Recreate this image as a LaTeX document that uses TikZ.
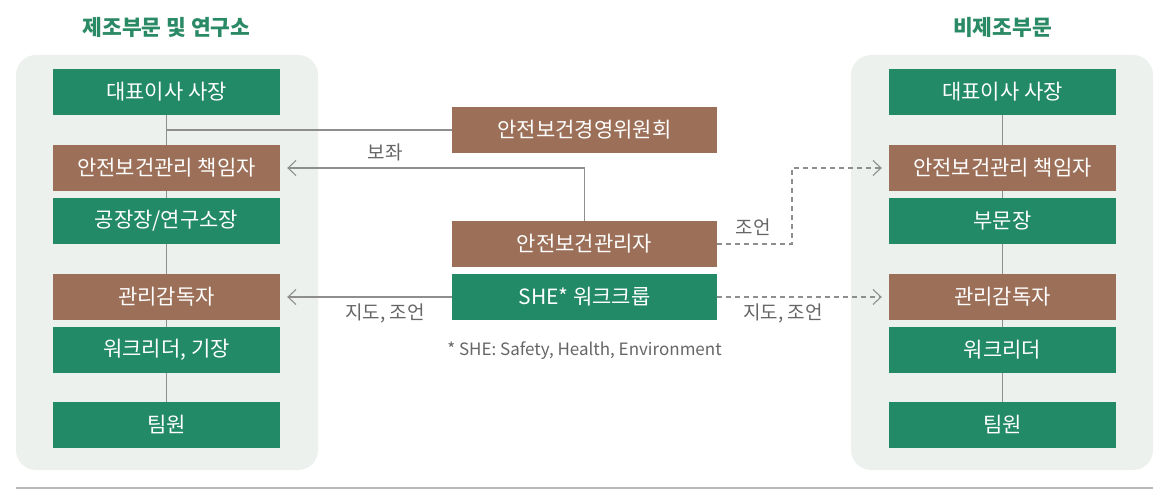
\documentclass[tikz,border=0pt]{standalone}
\usepackage{fontspec}
\setmainfont{Noto Sans CJK KR}
\usetikzlibrary{arrows.meta}
\definecolor{gbox}{HTML}{228A66}
\definecolor{bbox}{HTML}{9C7058}
\definecolor{panel}{HTML}{EDF1EE}
\definecolor{lgray}{HTML}{8E8E8E}
\definecolor{tgray}{HTML}{666666}
\definecolor{titlec}{HTML}{2A8A66}
\tikzset{
  box/.style={minimum width=227pt, minimum height=46pt, inner sep=0pt, text=white, font=\fontsize{21}{23}\selectfont},
  cbox/.style={minimum width=265pt, minimum height=46pt, inner sep=0pt, text=white, font=\fontsize{21}{23}\selectfont},
  gb/.style={fill=gbox},
  bb/.style={fill=bbox},
  conn/.style={draw=lgray, line width=1.1pt},
  arr/.style={conn, -{Straight Barb[length=8pt,width=15pt,line width=1.1pt]}, shorten >=7pt},
  dsh/.style={dash pattern=on 5pt off 4pt},
  lbl/.style={text=tgray, font=\fontsize{19}{21}\selectfont, inner sep=0pt},
  ttl/.style={text=titlec, font=\bfseries\fontsize{21.5}{23}\selectfont, inner sep=0pt},
  pnl/.style={fill=panel, rounded corners=20pt}
}
\begin{document}
\begin{tikzpicture}[x=1pt,y=-1pt]
\useasboundingbox (0,0) rectangle (1160,489);
\fill[white] (0,0) rectangle (1160,489);
% panels
\path[pnl] (16,55) rectangle (318,470);
\path[pnl] (851,55) rectangle (1153,470);
% titles
\node[ttl] (t1) at (166.5,27) {제조부문 및 연구소};
\node[ttl] (t2) at (1002.5,27) {비제조부문};
% left column
\node[box,gb] (L1) at (166.5,92) {대표이사 사장};
\node[box,bb] (L2) at (166.5,168) {안전보건관리 책임자};
\node[box,gb] (L3) at (166.5,221) {공장장/연구소장};
\node[box,bb] (L4) at (166.5,297) {관리감독자};
\node[box,gb] (L5) at (166.5,350) {워크리더, 기장};
\node[box,gb] (L6) at (166.5,425) {팀원};
% right column
\node[box,gb] (R1) at (1002.5,92) {대표이사 사장};
\node[box,bb] (R2) at (1002.5,168) {안전보건관리 책임자};
\node[box,gb] (R3) at (1002.5,221) {부문장};
\node[box,bb] (R4) at (1002.5,297) {관리감독자};
\node[box,gb] (R5) at (1002.5,350) {워크리더};
\node[box,gb] (R6) at (1002.5,425) {팀원};
% center column
\node[cbox,bb] (C1) at (584.5,130) {안전보건경영위원회};
\node[cbox,bb] (C2) at (584.5,244) {안전보건관리자};
\node[cbox,gb] (C3) at (584.5,297) {SHE* 워크크룹};
% vertical hierarchy lines
\draw[conn] (L1.south) -- (L2.north);
\draw[conn] (L2.south) -- (L3.north);
\draw[conn] (L3.south) -- (L4.north);
\draw[conn] (L4.south) -- (L5.north);
\draw[conn] (L5.south) -- (L6.north);
\draw[conn] (R1.south) -- (R2.north);
\draw[conn] (R2.south) -- (R3.north);
\draw[conn] (R3.south) -- (R4.north);
\draw[conn] (R4.south) -- (R5.north);
\draw[conn] (R5.south) -- (R6.north);
% committee link
\draw[conn] (C1.west) -- (L1.south |- C1.west);
% 보좌
\draw[arr] (C2.north) |- (L2.east);
\node[lbl] (l1) at (385,152) {보좌};
% 지도, 조언 left
\draw[arr] (C3.west) -- (L4.east);
\node[lbl] (l2) at (385,313) {지도, 조언};
% dashed to right
\coordinate (d1) at (792,244);
\draw[arr,dsh] (C2.east) -- (d1) |- (R2.west);
\node[lbl] (l3) at (753,227) {조언};
\draw[arr,dsh] (C3.east) -- (R4.west);
\node[lbl] (l4) at (783,313) {지도, 조언};
% footnote
\node[lbl, font=\fontsize{17}{19}\selectfont] (fn) at (584.5,351) {* SHE: Safety, Health, Environment};
% bottom rule
\draw[draw=black!28, line width=1.3pt] (16,488) -- (1153,488);
\end{tikzpicture}
\end{document}
